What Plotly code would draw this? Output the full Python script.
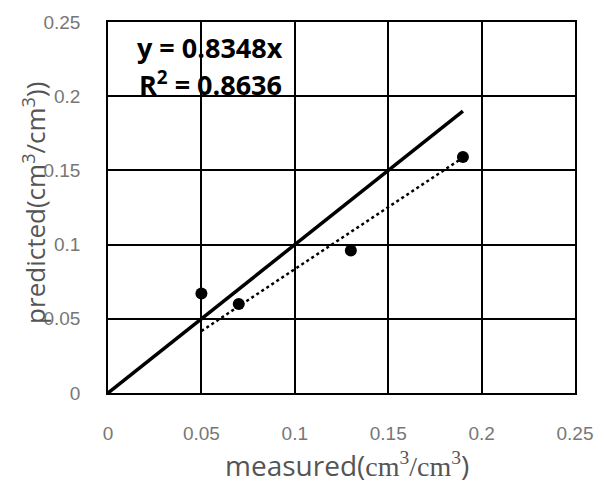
import plotly.graph_objects as go

measured = [0.05, 0.07, 0.13, 0.19]
predicted = [0.067, 0.060, 0.096, 0.159]
slope = 0.8348
r2 = 0.8636
one_to_one_x = [0, 0.19]
trend_x = [0.05, 0.19]
tick_vals = [0, 0.05, 0.1, 0.15, 0.2, 0.25]
tick_text = ["0", "0.05", "0.1", "0.15", "0.2", "0.25"]

fig = go.Figure()
fig.add_trace(go.Scatter(x=one_to_one_x, y=one_to_one_x, mode="lines",
                         line=dict(color="black", width=3.5), showlegend=False))
fig.add_trace(go.Scatter(x=trend_x, y=[slope * v for v in trend_x], mode="lines",
                         line=dict(color="black", width=2.5, dash="dot"), showlegend=False))
fig.add_trace(go.Scatter(x=measured, y=predicted, mode="markers",
                         marker=dict(color="black", size=12), showlegend=False))

tickfont = dict(family="Liberation Sans", size=19, color="#777777")
axis_common = dict(range=[0, 0.25], tickvals=tick_vals, ticktext=tick_text,
                   showgrid=True, gridcolor="black", gridwidth=1.5,
                   showline=True, linecolor="black", linewidth=1.5, mirror=True,
                   zeroline=False, ticks="", tickfont=tickfont,
                   ticklabelstandoff=22)
fig.update_xaxes(**axis_common)
fig.update_yaxes(**axis_common)

title_font = dict(family="Open Sans", size=26, color="#555555", weight=500)
fig.add_annotation(text="predicted(cm<sup>3</sup>/cm<sup>3</sup>))", textangle=-90,
                   xref="paper", yref="paper", x=-0.158, y=0.513,
                   showarrow=False, font=title_font, xanchor="center", yanchor="middle")
fig.add_annotation(text="measured(<span style='font-family:Liberation Serif'>cm<sup>3</sup>/cm<sup>3</sup></span>)",
                   xref="paper", yref="paper", x=0.512, y=-0.195,
                   showarrow=False, font=dict(family="Open Sans", size=28, color="#555555", weight=500),
                   xanchor="center", yanchor="middle")

eq_font = dict(family="Open Sans", size=27, color="black", weight="bold")
fig.add_annotation(text=f"y = {slope}x", xref="paper", yref="paper", x=0.057, y=0.93,
                   xanchor="left", yanchor="middle", showarrow=False, font=eq_font)
fig.add_annotation(text=f"R<sup>2</sup> = {r2}", xref="paper", yref="paper", x=0.063, y=0.834,
                   xanchor="left", yanchor="middle", showarrow=False, font=eq_font)

fig.update_layout(width=605, height=483, margin=dict(l=108, r=22, t=17, b=90),
                  plot_bgcolor="white", paper_bgcolor="white")
fig.write_html("out.html", config={"displayModeBar": False},
               post_script="document.body.style.margin='0';document.body.style.overflow='hidden';")
